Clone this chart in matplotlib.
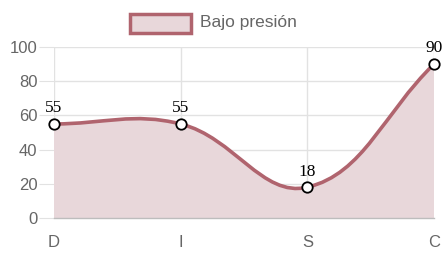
import matplotlib.pyplot as plt
import numpy as np
from matplotlib.path import Path
from matplotlib.patches import PathPatch, Rectangle

# data
categories = ["D", "I", "S", "C"]
values = [55, 55, 18, 90]
series_name = "Bajo presión"

line_color = "#b0646e"
fill_color = "#e8d7da"
grid_color = "#e2e2e2"
text_gray = "#666666"

W, H = 445, 261
fig = plt.figure(figsize=(W / 100, H / 100), dpi=100)
# plot area in pixels: x 54..434, y 47..218
ax = fig.add_axes([54 / W, (H - 218) / H, 380 / W, 171 / H])

x = np.arange(len(categories), dtype=float)
y = np.array(values, dtype=float)

# Chart.js style spline (tension 0.4), distances measured in pixel space
sx, sy = 380 / 3, 171 / 100
tension = 0.4
n = len(x)
cp_prev = np.zeros((n, 2))
cp_next = np.zeros((n, 2))
for i in range(n):
    p0 = (x[max(i - 1, 0)], y[max(i - 1, 0)])
    p1 = (x[i], y[i])
    p2 = (x[min(i + 1, n - 1)], y[min(i + 1, n - 1)])
    d01 = np.hypot((p1[0] - p0[0]) * sx, (p1[1] - p0[1]) * sy)
    d12 = np.hypot((p2[0] - p1[0]) * sx, (p2[1] - p1[1]) * sy)
    s01 = d01 / (d01 + d12) if d01 + d12 else 0
    s12 = d12 / (d01 + d12) if d01 + d12 else 0
    fa, fb = tension * s01, tension * s12
    cp_prev[i] = (p1[0] - fa * (p2[0] - p0[0]), p1[1] - fa * (p2[1] - p0[1]))
    cp_next[i] = (p1[0] + fb * (p2[0] - p0[0]), p1[1] + fb * (p2[1] - p0[1]))

verts = [(x[0], y[0])]
codes = [Path.MOVETO]
for i in range(n - 1):
    verts += [tuple(cp_next[i]), tuple(cp_prev[i + 1]), (x[i + 1], y[i + 1])]
    codes += [Path.CURVE4] * 3

fill_verts = verts + [(x[-1], 0), (x[0], 0), (x[0], y[0])]
fill_codes = codes + [Path.LINETO, Path.LINETO, Path.CLOSEPOLY]
ax.add_patch(PathPatch(Path(fill_verts, fill_codes), facecolor=fill_color,
                       edgecolor="none", zorder=1))
ax.add_patch(PathPatch(Path(verts, codes), facecolor="none", edgecolor=line_color,
                       lw=2.6, capstyle="round", joinstyle="round", zorder=3))
ax.plot(x, y, "o", ms=7.5, mfc="white", mec="black", mew=1.3, zorder=4, clip_on=False)

for xi, yi in zip(x, y):
    ax.annotate(str(int(yi)), (xi, yi), xytext=(0, 5.5), textcoords="offset points",
                ha="center", va="bottom", fontsize=12.5, family="Liberation Serif",
                color="black", annotation_clip=False, zorder=5)

ax.set_xlim(0, 3)
ax.set_ylim(0, 100)
ax.set_xticks(x)
ax.set_xticklabels(categories)
ax.set_yticks(range(0, 101, 20))
ax.grid(True, color=grid_color, lw=1, zorder=0)
ax.set_axisbelow(True)
for s in ["top", "right", "left"]:
    ax.spines[s].set_visible(False)
ax.spines["bottom"].set_color("#bdbdbd")
ax.spines["bottom"].set_linewidth(1)
ax.tick_params(axis="y", length=11, color=grid_color, pad=1, labelsize=12,
               labelcolor=text_gray)
ax.tick_params(axis="x", length=0, pad=12, labelsize=12, labelcolor=text_gray)
for lab in ax.get_xticklabels() + ax.get_yticklabels():
    lab.set_family("Liberation Sans")

# legend
fig.patches.append(Rectangle((130 / W, (H - 33) / H), 61 / W, 19 / H,
                             transform=fig.transFigure, facecolor=fill_color,
                             edgecolor=line_color, lw=2.5))
fig.text(200 / W, (H - 22) / H, series_name, ha="left", va="center", fontsize=12.5,
         color=text_gray, family="Liberation Sans")

fig.savefig("out.png", dpi=100)
